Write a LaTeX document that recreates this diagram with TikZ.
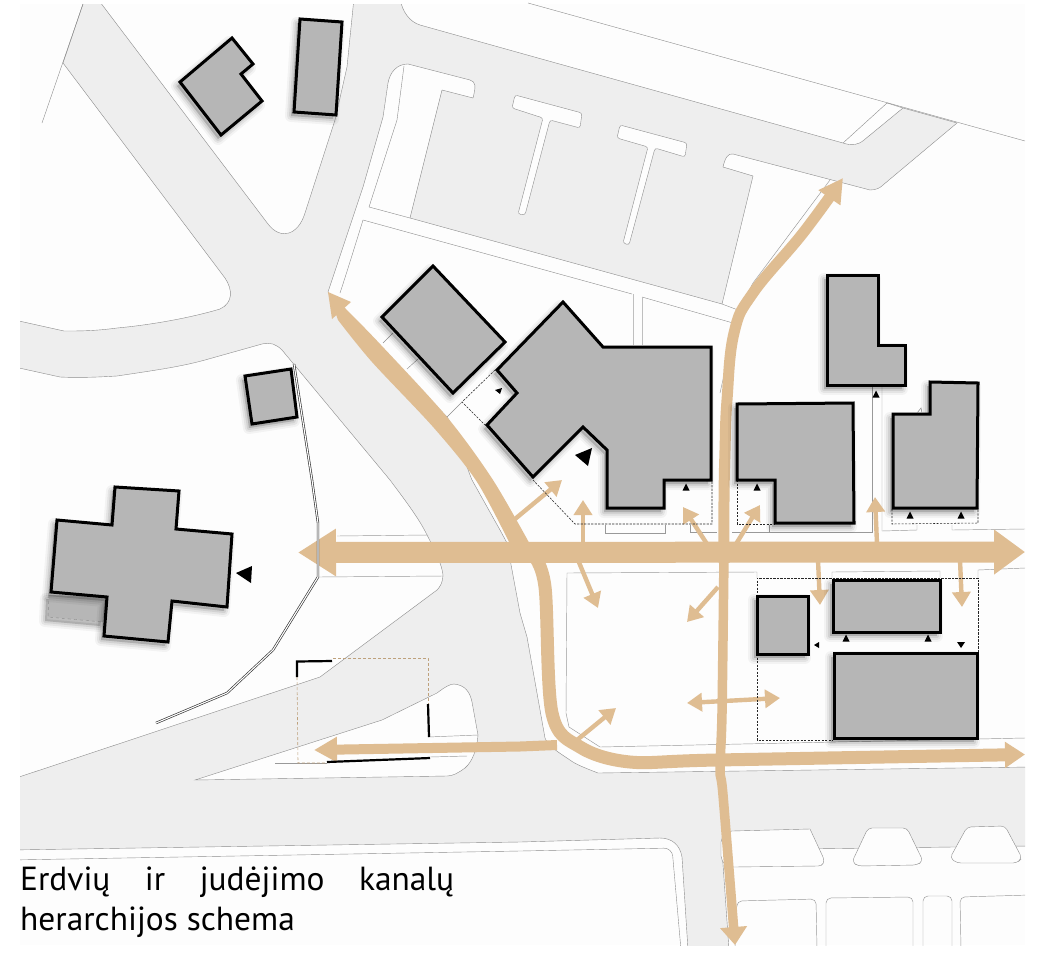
\documentclass[tikz,border=0pt]{standalone}
\usepackage{fontspec}
\setmainfont{PT Sans}
\usetikzlibrary{arrows.meta}
\definecolor{roadgray}{HTML}{EEEEEE}
\definecolor{bggray}{HTML}{FDFDFD}
\definecolor{bldgray}{HTML}{B6B6B6}
\definecolor{tan}{HTML}{DFBD92}
\definecolor{edgegray}{HTML}{8C8C8C}
\tikzset{
  road/.style={fill=roadgray,draw=edgegray,line width=.4pt,line join=round},
  island/.style={fill=bggray,draw=edgegray,line width=.4pt},
  thinl/.style={draw=edgegray,line width=.4pt},
  softl/.style={draw=black!40,line width=.45pt},
  dashbox/.style={draw=black!85,line width=.55pt,dash pattern=on 2.2pt off 1.3pt},
  tandash/.style={draw=tan!85!black,line width=.6pt,dash pattern=on 3pt off 2pt},
  mainar/.style={draw=tan,line cap=butt},
  smallar/.style={draw=tan,line width=4.4pt,-{Triangle[length=15pt,width=18pt]}},
  blk/.style={draw=black,line width=2.2pt},
  bldg/.style={fill=bldgray,draw=black,line width=3pt,line join=miter},
  tri/.style={fill=black}
}
\newcommand{\bldshadow}[1]{%
  \begin{scope}[shift={(-3,4)}]
    \draw[line width=12pt,line join=round,black,fill=black,opacity=.04] #1;
    \draw[line width=8pt,line join=round,black,fill=black,opacity=.06] #1;
    \draw[line width=4pt,line join=round,black,fill=black,opacity=.08] #1;
  \end{scope}}
\newcommand{\bld}[1]{\bldshadow{#1}\draw[bldg] #1;}
\newcommand{\uptri}[2]{\fill[tri] (#1-3.5,#2+3.5) -- (#1+3.5,#2+3.5) -- (#1,#2-3.5) -- cycle;}
\begin{document}
\begin{tikzpicture}[x=1pt,y=-1pt]
\useasboundingbox (0,0) rectangle (1040,953);
\fill[white] (0,0) rectangle (1040,953);
\begin{scope}
\clip (20,4) rectangle (1025,945);
\fill[bggray] (20,4) rectangle (1025,945);
% roads
\draw[road] (85,-2) -- (63,63) -- (225,278)
  .. controls (233,290) and (233,303) .. (220,309)
  .. controls (190,318) and (150,325) .. (117,328)
  .. controls (95,331) and (80,331) .. (64,331) -- (10,319) -- (10,366) -- (60,377)
  .. controls (80,378) and (100,377) .. (117,376)
  .. controls (150,371) and (180,367) .. (205,360)
  -- (262,344) .. controls (270,342) and (276,344) .. (282,350)
  -- (390,480) .. controls (405,500) and (420,520) .. (427,535)
  .. controls (435,550) and (442,565) .. (443,575)
  .. controls (443,582) and (440,587) .. (437,590)
  -- (320,677) -- (10,780) -- (10,850) -- (520,842) -- (660,838)
  .. controls (672,838) and (680,845) .. (682,857)
  -- (688,950) -- (729,950) -- (722,850) -- (1030,846) -- (1030,767) -- (598,773)
  .. controls (585,768) and (575,764) .. (570,760)
  .. controls (558,752) and (548,746) .. (545,738)
  -- (527,637) -- (520,613) -- (507,543) -- (500,530) -- (472,480)
  .. controls (462,455) and (455,428) .. (447,417)
  -- (328,292) -- (363,187) -- (383,117) -- (388,83)
  .. controls (390,72) and (397,64) .. (408,64)
  -- (470,80) .. controls (476,82) and (476,86) .. (473,98)
  -- (442,90) -- (410,218) -- (722,304) -- (753,176) -- (723,167)
  .. controls (725,158) and (728,153) .. (733,154)
  -- (870,190) .. controls (876,190) and (880,188) .. (883,185)
  -- (957,123) -- (903,108) -- (864,140)
  .. controls (858,145) and (852,146) .. (843,143)
  -- (520,53) -- (420,25) .. controls (410,22) and (402,12) .. (400,-2)
  -- (354,-2) -- (347,67) -- (335,120) -- (305,213)
  .. controls (298,236) and (280,240) .. (268,224)
  -- (97,-2) -- cycle;
% T islands
\draw[island,rounded corners=2.5pt] (515,95) -- (582,113) -- (580,128) -- (550,120) -- (525,215) -- (518,214) -- (543,118) -- (512,108) -- cycle;
\draw[island,rounded corners=2.5pt] (620,125) -- (687,143) -- (685,157) -- (655,148) -- (629,245) -- (623,243) -- (648,147) -- (617,138) -- cycle;
% traffic island
\draw[island] (195,780) -- (382,720) -- (437,693) .. controls (445,687) and (450,684) .. (454,684)
  .. controls (465,685) and (470,692) .. (472,702) -- (478,735)
  .. controls (477,750) and (472,762) .. (465,768) .. controls (458,773) and (453,776) .. (447,776) -- cycle;
% parking bays
\draw[island] (732,831) -- (810,829) -- (823,857) .. controls (825,862) and (823,866) .. (818,866) -- (733,867)
  .. controls (726,867) and (722,863) .. (721,856) -- (721,842) .. controls (722,836) and (726,831) .. (732,831) -- cycle;
\draw[island,rounded corners=4pt] (868,828) -- (907,828) -- (923,861) -- (917,865) -- (858,866) -- (852,862) -- cycle;
\draw[island,rounded corners=4pt] (967,827) -- (1005,826) -- (1022,858) -- (1017,863) -- (957,863) -- (950,858) -- cycle;
% bottom blocks
\draw[softl,rounded corners=5pt] (735,950) -- (737,901) -- (816,899) -- (817,950);
\draw[softl,rounded corners=5pt] (826,950) -- (826,898) -- (913,897) -- (913,950);
\draw[softl,rounded corners=5pt] (923,950) -- (923,896) -- (952,896) -- (952,950);
\draw[softl,rounded corners=5pt] (961,950) -- (960,897) -- (1030,895);
\draw[thinl,rounded corners=8pt] (10,860) -- (520,851) -- (672,848) -- (681,950);
\end{scope}
% street lines
\draw[thinl] (528,3) -- (1025,141);
\draw[thinl] (83,4) -- (42,123);
\draw[thinl] (887,103) -- (843,143);
\draw[thinl] (903,108) -- (887,103);
\draw[thinl] (404,66) -- (397,120) -- (369,207) -- (410,218);
\draw[thinl] (340,293) .. controls (345,278) and (350,262) .. (363,220) -- (632,294);
\draw[thinl] (642,297) -- (733,323);
\draw[thinl] (722,304) -- (738,310);
\draw[softl,black!25] (633,294) -- (633,345);
\draw[softl,black!25] (642,297) -- (642,345);
\draw[softl] (830,180) -- (753,283) -- (738,312) -- (720,393);
\draw[softl] (337,536) -- (428,535);
\draw[softl] (318,577) -- (443,576);
\draw[softl] (757,578) -- (757,572) -- (567,573) -- (566,713) -- (569,727) -- (600,747) -- (1025,738);
\draw[softl] (428,737) -- (478,735);
\draw[softl] (275,763) -- (327,763);
\draw[softl] (430,757) -- (467,756);
\draw[softl] (605,525) -- (605,533) -- (665,533) -- (665,525);
\draw[softl] (690,525) -- (690,532) -- (717,532);
\draw[softl] (732,532) -- (769,532) -- (769,525);
\draw[softl] (769,532) -- (872,532) -- (872,385);
\draw[softl] (882,385) -- (882,531) -- (917,530) -- (917,525);
\draw[softl] (952,525) -- (952,530) -- (1025,529);
\draw[softl] (978,578) -- (978,570) -- (1025,568);
\draw[softl] (832,578) -- (832,572) -- (940,571) -- (940,578);
\draw[thinl] (383,343) -- (393,333);
\draw[thinl] (407,369) -- (418,359);
\draw[thinl] (447,417) -- (462,402);
% tan channels
\draw[mainar,line width=21pt,{Triangle[length=38pt,width=45pt]}-{Triangle[length=31pt,width=43pt]}] (298,552.5) -- (1025,552);
\draw[mainar,line width=10pt,-{Triangle[length=23pt,width=24pt]}] (557,745) -- (520,746.5) -- (314,750);
\draw[mainar,line width=13pt,-{Triangle[length=20pt,width=25pt]}] plot[smooth,tension=.55] coordinates {(533,555) (545,587) (552,713) (580,747) (630,762) (717,760) (1025,754.5)};
\draw[mainar,line width=11pt,-{Triangle[length=24pt,width=25pt]}] plot[smooth,tension=.7] coordinates {(724,563) (724,500) (725,450) (727,400) (734,333) (753,293) (803,233) (843,178)};
\draw[mainar,line width=9.5pt,-{Triangle[length=18pt,width=26pt]}] plot[smooth,tension=.5] coordinates {(724,555) (722,713) (720,770) (723,795) (735,945)};
\fill[tan] plot[smooth,tension=.5] coordinates {(328,292) (345,308) (381,345) (447,417) (493,480) (532,548)}
  -- plot[smooth,tension=.5] coordinates {(512,548) (477,482) (434,428) (372,362) (338,320)}
  -- cycle;
\fill[tan] (328,292) -- (351,302) -- (332,319) -- cycle;
% small arrows
\draw[smallar] (583,544) -- (583,500);
\draw[smallar] (578,560) -- (598,608);
\draw[smallar] (718,587) -- (687,622);
\draw[smallar] (707,544) -- (683,507);
\draw[smallar] (736,544) -- (760,505);
\draw[smallar] (877,544) -- (875,497);
\draw[smallar] (818,560) -- (820,605);
\draw[smallar] (960,560) -- (962,607);
\draw[smallar,{Triangle[length=15pt,width=18pt]}-{Triangle[length=15pt,width=18pt]}] (687,703) -- (780,698);
\draw[smallar] (577,740) -- (616,708);
\draw[smallar] (515,519) -- (562,480);
% dashed yards
\draw[dashbox] (533,480) -- (575,524) -- (712,524) -- (712,480);
\draw[dashbox] (737,480) -- (737,524) -- (775,524);
\draw[dashbox] (892,509) -- (892,524) -- (978,523) -- (978,508);
\draw[dashbox] (978,652) -- (978,578) -- (757,578) -- (757,740) -- (833,740);
\draw[dashbox] (495,370) -- (462,402) -- (485,425);
% buildings
\bldshadow{(49,595) -- (48,617) -- (103,622) -- (107,597) -- cycle}
\fill[bldgray] (49,595) -- (48,617) -- (103,622) -- (107,597) -- cycle;
\draw[thinl,dashed] (49,595) -- (48,617) -- (103,622);
\bld{(232,38) -- (253,64) -- (241,74) -- (262,101) -- (221,135) -- (180,82) -- cycle}
\bld{(300,19) -- (342,22) -- (336,115) -- (294,112) -- cycle}
\bld{(433,266) -- (505,342) -- (453,393) -- (382,317) -- cycle}
\bld{(245,376) -- (291,369) -- (297,417) -- (252,424) -- cycle}
\bld{(563,302) -- (603,347) -- (711,347) -- (711,480) -- (664,480) -- (664,508) -- (607,508) -- (607,450) -- (583,427) -- (533,477) -- (487,425) -- (517,393) -- (497,370) -- cycle}
\bld{(737,404) -- (853,403) -- (854,523) -- (775,523) -- (775,480) -- (737,480) -- cycle}
\bld{(827,275) -- (878,275) -- (878,345) -- (905,345) -- (905,385) -- (827,385) -- cycle}
\bld{(930,382) -- (978,383) -- (977,508) -- (893,508) -- (893,414) -- (930,414) -- cycle}
\bld{(115,487) -- (179,491) -- (176,529) -- (232,534) -- (227,607) -- (172,601) -- (168,642) -- (104,636) -- (107,597) -- (51,592) -- (57,520) -- (112,525) -- cycle}
\bld{(757,596) -- (808,596) -- (808,654) -- (757,654) -- cycle}
\bld{(833,580) -- (940,580) -- (940,632) -- (833,632) -- cycle}
\bld{(834,653) -- (977,653) -- (977,738) -- (834,738) -- cycle}
\draw[black!50,line width=.5pt] (917,413) -- (921,408) -- (922,413);
% entrance triangles
\fill[tri] (575,455) -- (592,448) -- (588,466) -- cycle;
\fill[tri] (236,573) -- (252,566) -- (251,583) -- cycle;
\fill[tri] (495,390) -- (502,388) -- (500,394) -- cycle;
\uptri{686}{487}
\uptri{757}{487}
\uptri{910}{515}
\uptri{961}{515}
\uptri{846}{638}
\uptri{928}{638}
\uptri{876}{394}
\fill[tri] (957,642) -- (965,642) -- (961,648) -- cycle;
\fill[tri] (814,645) -- (819,642) -- (819,648) -- cycle;
% footpath wall
\draw[black!80,line width=2.4pt,line join=miter] (294,364) -- (312,480) -- (318,523) -- (318,577) -- (273,650) -- (227,693) -- (156,723);
\draw[white,line width=1.1pt,line join=miter] (294,364) -- (312,480) -- (318,523) -- (318,577) -- (273,650) -- (227,693) -- (156,723);
% ruin outline
\draw[tandash] (333,658) -- (428,658) -- (428,704);
\draw[tandash] (297,677) -- (298,763) -- (327,763);
\draw[blk] (297,677) -- (297,661.5) -- (332,661);
\draw[blk] (428,704) -- (429,737);
\draw[blk] (327,762) -- (430,758);
% title
\node[anchor=base west,inner sep=0pt] (titleA) at (20,890) {\fontsize{33.4}{40}\selectfont\hbox to 434pt{Erdvių\hfill ir\hfill judėjimo\hfill kanalų}};
\node[anchor=base west,inner sep=0pt] (titleB) at (20,930) {\fontsize{33.4}{40}\selectfont herarchijos schema};
\end{tikzpicture}
\end{document}
